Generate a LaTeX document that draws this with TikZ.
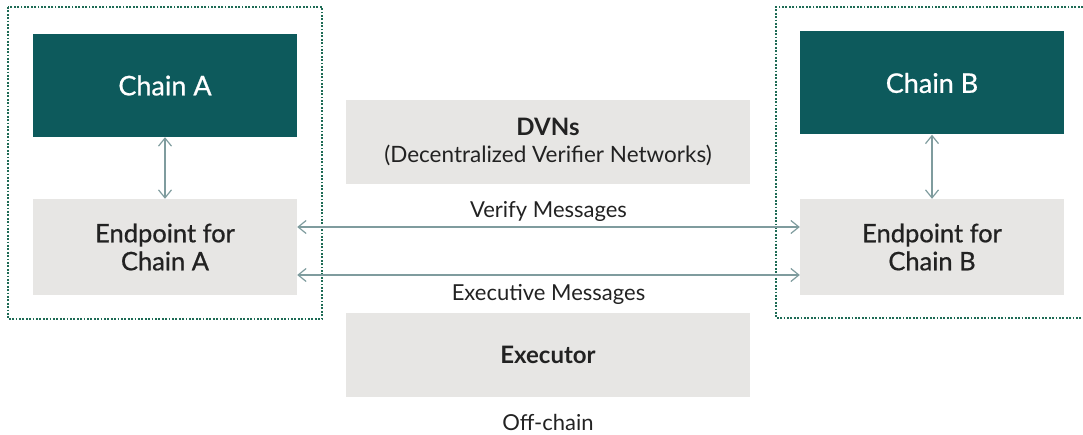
\documentclass[tikz,border=0pt]{standalone}
\usepackage{fontspec}
\setmainfont{Lato}
\newfontfamily\lzmed{Lato}[FakeBold=0.7]
\usetikzlibrary{arrows.meta}
\definecolor{lzink}{HTML}{222222}
\definecolor{lzteal}{HTML}{0D5A5C}
\definecolor{lzgrey}{HTML}{E7E6E4}
\definecolor{lzline}{HTML}{7F9C9E}
\definecolor{lzdot}{HTML}{1E6B55}

\begin{document}
\begin{tikzpicture}[
  x=1pt,y=-1pt,
  text=lzink,
  >={Straight Barb[length=8pt,width=13pt]},
  chain/.style={fill=lzteal,text=white,minimum width=264pt,minimum height=103pt,
    inner sep=0pt,font=\lzmed\fontsize{27}{30}\selectfont},
  endpt/.style={fill=lzgrey,minimum width=264pt,minimum height=96pt,
    inner sep=0pt,align=center,font=\lzmed\fontsize{25.5}{28}\selectfont},
  offbox/.style={fill=lzgrey,minimum width=404pt,minimum height=84pt,
    inner sep=0pt,align=center},
  link/.style={draw=lzline,line width=1.2pt,<->},
  lbl/.style={font=\fontsize{22}{26}\selectfont,inner sep=0pt},
  zone/.style={draw=lzdot,line width=2pt,dash pattern=on 1.8pt off 1.6pt}
]
\useasboundingbox (0,0) rectangle (1083,435);

% on-chain zones
\draw[zone] (8,7) rectangle (322,319);
\draw[zone] (1083,7) -- (776,7) -- (776,318) -- (1083,318);

\node[chain] (chA) at (165,85.5) {Chain A};
\node[chain] (chB) at (932,83) {Chain B};
\node[endpt] (epA) at (165,247) {Endpoint for\\Chain A};
\node[endpt] (epB) at (932,247) {Endpoint for\\Chain B};

% off-chain workers
\node[offbox,font=\fontsize{22.5}{27}\selectfont] (dvn) at (548,142)
  {{\bfseries\fontsize{24}{27}\selectfont DVNs}\\(Decentralized Verifier Networks)};
\node[offbox,font=\fontsize{24}{27}\selectfont\bfseries] (exe) at (548,354.5) {Executor};
\node[lbl] (off) at (548,422) {Off-chain};

\draw[link] (chA.south) -- (epA.north);
\draw[link] (chB.south) -- (epB.north);
\draw[link] ([yshift=20pt]epA.east) --
  node[lbl,above=5pt] (ver) {Verify Messages} ([yshift=20pt]epB.west);
\draw[link] ([yshift=-28pt]epA.east) --
  node[lbl,below=9pt] (exm) {Executive Messages} ([yshift=-28pt]epB.west);
\end{tikzpicture}
\end{document}
